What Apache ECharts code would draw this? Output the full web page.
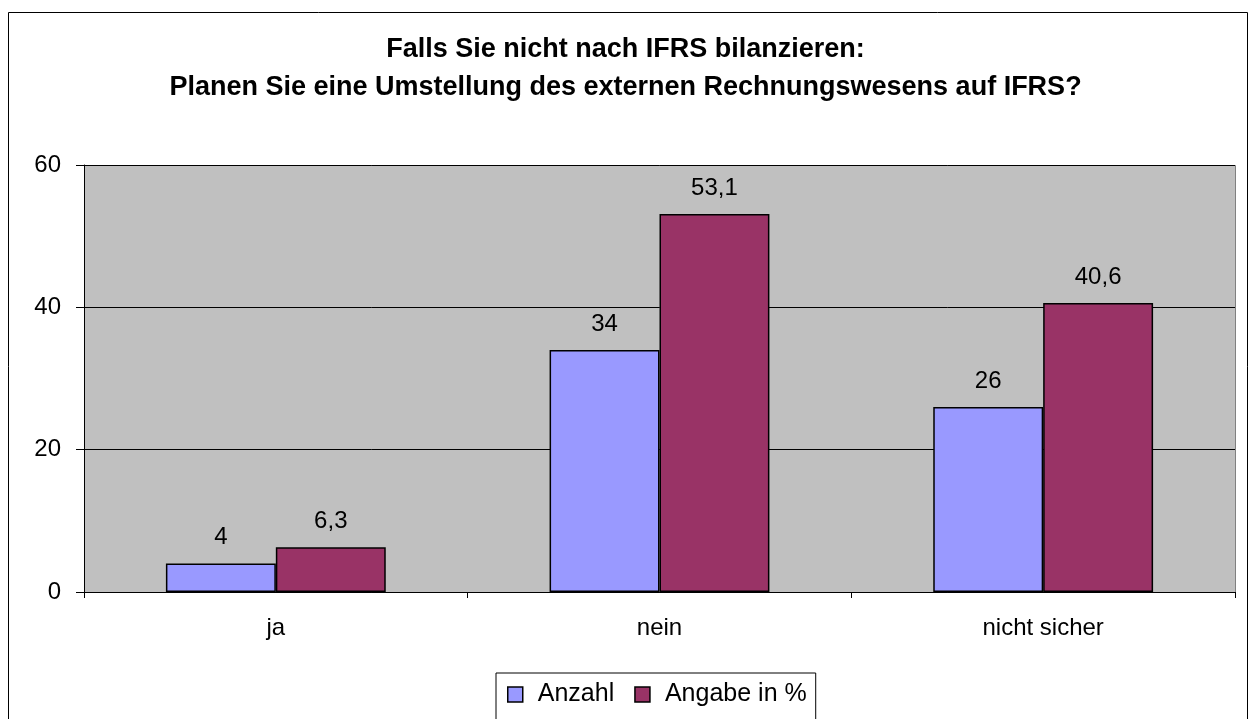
<!DOCTYPE html>
<html lang="de">
<head>
<meta charset="utf-8">
<title>IFRS Umstellung</title>
<script src="https://cdn.jsdelivr.net/npm/echarts@6/dist/echarts.min.js"></script>
<style>
  html, body { margin: 0; padding: 0; background: #fff; }
  #container { width: 1251px; height: 719px; }
</style>
</head>
<body>
<div id="container"></div>
<script>
var categories = ['ja', 'nein', 'nicht sicher'];
var anzahl = [4, 34, 26];
var prozent = [6.3, 53.1, 40.6];
var yTicks = [0, 20, 40, 60];

var fmt = function (p) { return String(p.value).replace('.', ','); };
var font = 'Liberation Sans, Arial, sans-serif';

var myChart = echarts.init(document.getElementById('container'));
var option = {
  backgroundColor: '#fff',
  animation: false,
  textStyle: { fontFamily: font },
  title: {
    text: 'Falls Sie nicht nach IFRS bilanzieren:\nPlanen Sie eine Umstellung des externen Rechnungswesens auf IFRS?',
    left: 'center',
    top: 26,
    textStyle: { fontFamily: font, fontSize: 27, fontWeight: 'bold', color: '#000', lineHeight: 38 }
  },
  graphic: [
    { type: 'rect', shape: { x: 8.5, y: 12.5, width: 1239, height: 720 },
      style: { fill: 'none', stroke: '#000', lineWidth: 1 }, z: 0 },
    { type: 'rect', shape: { x: 84.5, y: 165.5, width: 1151, height: 427 },
      style: { fill: '#C0C0C0', stroke: '#808080', lineWidth: 1 }, z: -1 }
  ],
  legend: {
    top: 673,
    left: 496,
    icon: 'rect',
    itemWidth: 15,
    itemHeight: 15,
    itemGap: 20,
    padding: [9, 9, 40, 11],
    borderColor: '#000',
    borderWidth: 1,
    itemStyle: { borderColor: '#000', borderWidth: 1.5 },
    textStyle: { fontFamily: font, fontSize: 25, color: '#000', padding: [0, 0, 0, 10] },
    data: ['Anzahl', 'Angabe in %']
  },
  grid: { left: 84, top: 165, width: 1151, height: 427, containLabel: false },
  xAxis: {
    type: 'category',
    data: categories,
    axisLine: { lineStyle: { color: '#000' } },
    axisTick: { show: true, length: 6, lineStyle: { color: '#000' } },
    axisLabel: { fontFamily: font, fontSize: 24, color: '#000', margin: 24 }
  },
  yAxis: {
    type: 'value',
    min: yTicks[0],
    max: yTicks[yTicks.length - 1],
    interval: 20,
    axisLine: { show: true, lineStyle: { color: '#000' } },
    axisTick: { show: true, length: 8, lineStyle: { color: '#000' } },
    axisLabel: { fontFamily: font, fontSize: 24, color: '#000', margin: 23 },
    splitLine: { lineStyle: { color: '#000' } }
  },
  series: [
    {
      name: 'Anzahl',
      type: 'bar',
      data: anzahl,
      barGap: '0%',
      barCategoryGap: '42.7%',
      itemStyle: { color: '#9999FF', borderColor: '#000', borderWidth: 1.5 },
      label: { show: true, position: 'top', distance: 14, formatter: fmt,
               fontFamily: font, fontSize: 24, color: '#000' }
    },
    {
      name: 'Angabe in %',
      type: 'bar',
      data: prozent,
      itemStyle: { color: '#993366', borderColor: '#000', borderWidth: 1.5 },
      label: { show: true, position: 'top', distance: 14, formatter: fmt,
               fontFamily: font, fontSize: 24, color: '#000' }
    }
  ]
};
myChart.setOption(option);
</script>
</body>
</html>
